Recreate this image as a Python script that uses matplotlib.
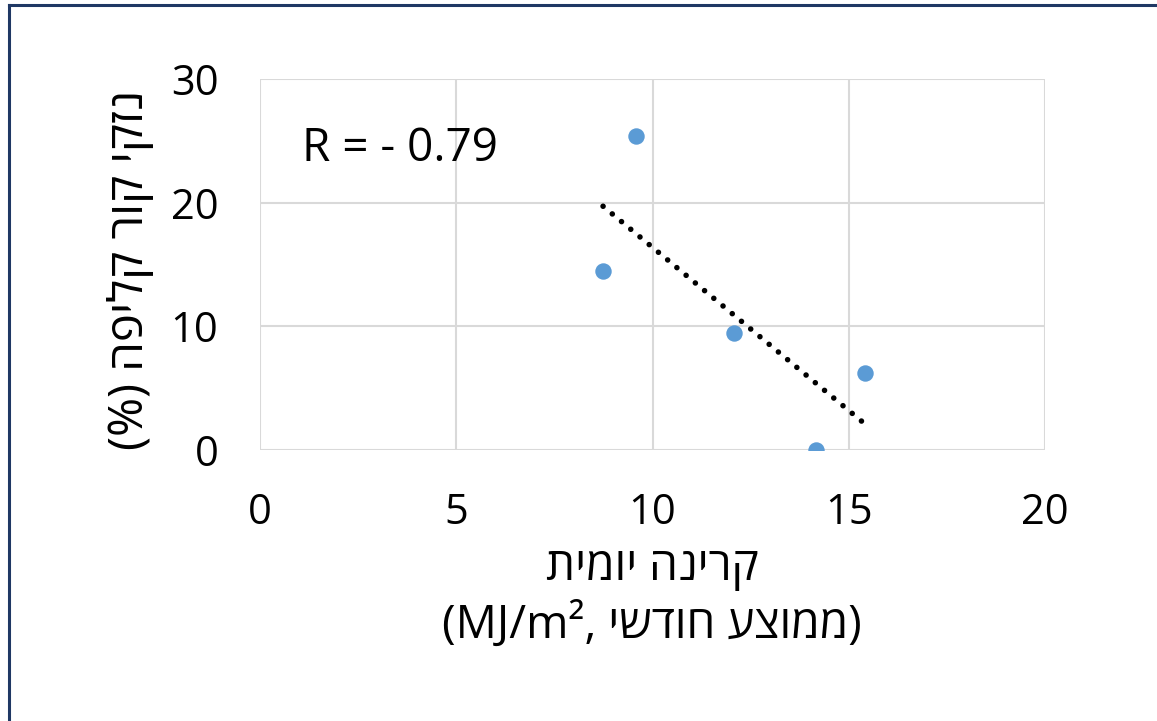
import matplotlib.pyplot as plt
import numpy as np
from matplotlib.lines import Line2D

# data
radiation = [8.74, 9.58, 12.08, 14.17, 15.41]   # daily radiation, monthly mean (MJ/m2)
damage = [14.5, 25.4, 9.5, 0.0, 6.2]            # peel chilling damage (%)
x_ticks = [0, 5, 10, 15, 20]
y_ticks = [0, 10, 20, 30]

# hebrew labels written in visual (left to right) order, matplotlib has no bidi
ylabel_txt = "(%) הפילק רוק יקזנ"          # נזקי קור קליפה (%)
xlabel_line1 = "תימוי הנירק"               # קרינה יומית
xlabel_line2 = "(MJ/m², ישדוח עצוממ)"      # (ממוצע חודשי, MJ/m²)

plt.rcParams['font.family'] = ['Open Sans', 'DejaVu Sans']

fig = plt.figure(figsize=(11.57, 7.21), dpi=100)
ax = fig.add_axes([260/1157, 1-450/721, 785/1157, 371/721])

grid_c = '#d9d9d9'
ax.scatter(radiation, damage, s=140, color='#5b9bd5', zorder=3, linewidths=0)

# linear trendline
k, b = np.polyfit(radiation, damage, 1)
xs = np.array([min(radiation), max(radiation)])
ax.plot(xs, k*xs + b, color='black', linewidth=4.0, dash_capstyle='round',
        linestyle=(0, (0.01, 2.15)), zorder=2)

r = np.corrcoef(radiation, damage)[0, 1]
ax.text(0.053, 0.81, "R = - %.2f" % abs(r), transform=ax.transAxes,
        fontsize=33, va='center', ha='left')

ax.set_xlim(0, 20)
ax.set_ylim(0, 30)
ax.set_xticks(x_ticks)
ax.set_yticks(y_ticks)
ax.grid(True, color=grid_c, linewidth=1.5)
ax.set_axisbelow(True)
for s in ax.spines.values():
    s.set_visible(False)
ax.tick_params(length=0, labelsize=30, pad=30)
ax.tick_params(axis='y', pad=30)

fig.text(130/1157, 1-270/721, ylabel_txt, rotation=90, fontsize=34,
         ha='center', va='center')
fig.text(652/1157, 1-568/721, xlabel_line1, fontsize=33, ha='center', va='center')
fig.text(652/1157, 1-625/721, xlabel_line2, fontsize=33, ha='center', va='center')

# dark frame, only top and left edges are visible in the crop
frame_c = '#1f3864'
fig.add_artist(Line2D([9/1157, 9/1157], [0, 1-5/721], color=frame_c, linewidth=2.2,
                      transform=fig.transFigure, solid_capstyle='projecting'))
fig.add_artist(Line2D([9/1157, 1], [1-5/721, 1-5/721], color=frame_c, linewidth=2.2,
                      transform=fig.transFigure, solid_capstyle='projecting'))

fig.savefig('out.png', dpi=100, facecolor='white')
